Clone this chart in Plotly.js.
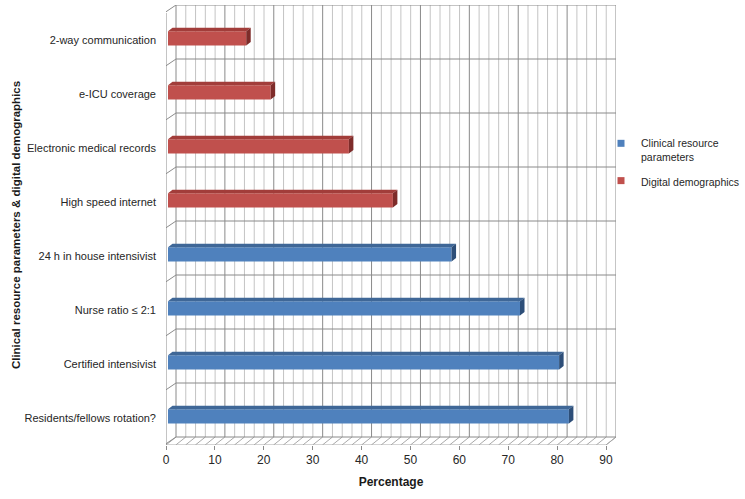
<!DOCTYPE html>
<html>
<head>
<meta charset="utf-8">
<script src="https://cdn.plot.ly/plotly-3.0.1.min.js"></script>
<style>html,body{margin:0;padding:0;background:#fff;}#chart{width:745px;height:499px;}</style>
</head>
<body>
<div id="chart"></div>
<script>
// Data (bottom to top)
const clinicalCategories = ['Residents/fellows rotation?', 'Certified intensivist', 'Nurse ratio ≤ 2:1', '24 h in house intensivist'];
const clinicalValues = [82, 80, 72, 58];
const digitalCategories = ['High speed internet', 'Electronic medical records', 'e-ICU coverage', '2-way communication'];
const digitalValues = [46, 37, 21, 16];
const xTickValues = [0, 10, 20, 30, 40, 50, 60, 70, 80, 90];
const seriesNames = ['Clinical resource<br>parameters', 'Digital demographics'];

const categories = clinicalCategories.concat(digitalCategories);
const N = categories.length;

// 3D projection helpers (in data units)
const DX = 2.045, DY = 0.148;       // full depth offset
const F = 0.2, D = 0.45;            // bar front depth, bar depth
const BH = 0.265;                   // bar front face height
const XMAX = xTickValues[xTickValues.length - 1];
const minorStep = 2;
const XR = [0, 450 / 4.889], YR = [0, 440 / 54];

const gridColorMajor = '#8a8a8a', gridColorMinor = '#c4c4c4';

function lines(segs) {
  const x = [], y = [];
  segs.forEach(s => { x.push(s[0], s[2], null); y.push(s[1], s[3], null); });
  return {x, y};
}

const minorSegs = [], majorSegs = [], hSegs = [], floorSegs = [], wallSegs = [];
for (let v = 0; v <= XMAX; v += minorStep) {
  const seg = [v + DX, DY, v + DX, N + DY];
  if (v % 10 === 0) majorSegs.push(seg); else minorSegs.push(seg);
  floorSegs.push([v, 0, v + DX, DY]);
}
for (let k = 0; k <= N; k++) {
  hSegs.push([DX, k + DY, XMAX + DX, k + DY]);
  wallSegs.push([-0.7, k - 0.02, DX, k + DY]);
}
floorSegs.push([0, 0, XMAX, 0]);
floorSegs.push([XMAX, 0, XMAX + DX, DY]);
wallSegs.push([0, 0, 0, N]);

const traces = [];
function lineTrace(segs, color, w) {
  const l = lines(segs);
  return {type: 'scatter', mode: 'lines', x: l.x, y: l.y, line: {color: color, width: w},
          hoverinfo: 'skip', showlegend: false, cliponaxis: false, xaxis: 'x', yaxis: 'y'};
}
traces.push(lineTrace(minorSegs, gridColorMinor, 1));
traces.push(lineTrace(floorSegs, '#a8a8a8', 1));
traces.push(lineTrace(hSegs, gridColorMajor, 1));
traces.push(lineTrace(majorSegs, gridColorMajor, 1));
traces.push(lineTrace(wallSegs, '#8a8a8a', 1));

// legend entries
traces.push({type: 'scatter', mode: 'markers', x: [null], y: [null], name: seriesNames[0], legendgroup: 'clinical',
  marker: {symbol: 'square', size: 7, color: '#4f81bd'}, xaxis: 'x', yaxis: 'y'});
traces.push({type: 'scatter', mode: 'markers', x: [null], y: [null], name: seriesNames[1], legendgroup: 'digital',
  marker: {symbol: 'square', size: 7, color: '#c0504d'}, xaxis: 'x', yaxis: 'y'});

function barTrace(values, offsetIndex, color, name, group) {
  return {
    type: 'bar', orientation: 'h', name: name, legendgroup: group,
    x: values,
    y: values.map((v, j) => offsetIndex + j + 0.5 + F * DY),
    base: F * DX, width: BH,
    marker: {color: color, line: {width: 0}},
    showlegend: false, xaxis: 'x2', yaxis: 'y2',
    hovertemplate: '%{x}%<extra></extra>'
  };
}
traces.push(barTrace(clinicalValues, 0, '#4f81bd', seriesNames[0], 'clinical'));
traces.push(barTrace(digitalValues, clinicalValues.length, '#c0504d', seriesNames[1], 'digital'));

function faceTraces(values, offsetIndex, topColor, sideColor) {
  const tx = [], ty = [], sx = [], sy = [];
  values.forEach((v, j) => {
    const yc = offsetIndex + j + 0.5 + F * DY;
    const x0 = F * DX, x1 = F * DX + v;
    const yt = yc + BH / 2, yb = yc - BH / 2;
    const ddx = D * DX, ddy = D * DY;
    tx.push(x0, x1, x1 + ddx, x0 + ddx, x0, null);
    ty.push(yt, yt, yt + ddy, yt + ddy, yt, null);
    sx.push(x1, x1, x1 + ddx, x1 + ddx, x1, null);
    sy.push(yb, yt, yt + ddy, yb + ddy, yb, null);
  });
  return [
    {type: 'scatter', mode: 'lines', x: tx, y: ty, fill: 'toself', fillcolor: topColor,
     line: {width: 0, color: topColor}, hoverinfo: 'skip', showlegend: false, xaxis: 'x2', yaxis: 'y2'},
    {type: 'scatter', mode: 'lines', x: sx, y: sy, fill: 'toself', fillcolor: sideColor,
     line: {width: 0, color: sideColor}, hoverinfo: 'skip', showlegend: false, xaxis: 'x2', yaxis: 'y2'}
  ];
}
traces.push(...faceTraces(clinicalValues, 0, '#3f6797', '#2d4e78'));
traces.push(...faceTraces(digitalValues, clinicalValues.length, '#a23d3a', '#7e2c2a'));

const FONT = '"Liberation Sans", Arial, sans-serif';

const layout = {
  width: 745, height: 499,
  paper_bgcolor: '#ffffff', plot_bgcolor: 'rgba(0,0,0,0)',
  margin: {l: 166, r: 129, t: 5, b: 54, autoexpand: false},
  font: {family: FONT, size: 11, color: '#262626'},
  barmode: 'overlay',
  showlegend: true,
  legend: {xref: 'container', yref: 'container', x: 601 / 745, xanchor: 'left', y: 1 - 130 / 499, yanchor: 'top',
           font: {size: 10.5, color: '#262626'}, valign: 'top',
           itemwidth: 30, tracegroupgap: 7, bgcolor: 'rgba(0,0,0,0)'},
  xaxis: {
    range: XR, tickvals: xTickValues, ticktext: xTickValues.map(String),
    showgrid: false, zeroline: false, showline: false,
    ticks: 'outside', ticklen: 4, tickcolor: '#8a8a8a',
    tickfont: {size: 12, color: '#262626'},
    title: {text: '<b>Percentage</b>', font: {size: 12, color: '#1a1a1a'}, standoff: 11}
  },
  yaxis: {
    range: YR,
    tickvals: categories.map((c, i) => i + 0.5), ticktext: categories,
    showgrid: false, zeroline: false, showline: false, ticks: '',
    ticklabelstandoff: 9,
    tickfont: {size: 11, color: '#262626'},
    title: {text: '<b>Clinical resource parameters &amp; digital demographics</b>', font: {size: 11.5, color: '#1a1a1a'}, standoff: 1}
  },
  xaxis2: {overlaying: 'x', range: XR, visible: false, fixedrange: true},
  yaxis2: {overlaying: 'y', range: YR, visible: false, fixedrange: true}
};

Plotly.newPlot('chart', traces, layout, {displayModeBar: false, staticPlot: true});
</script>
</body>
</html>
